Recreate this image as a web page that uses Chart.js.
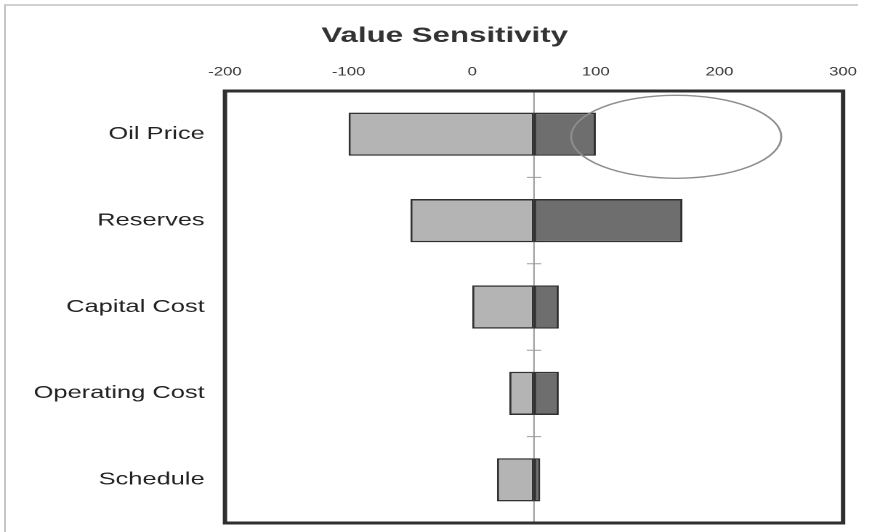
<!DOCTYPE html>
<html>
<head>
<meta charset="utf-8">
<title>Value Sensitivity</title>
<script src="https://cdn.jsdelivr.net/npm/chart.js@4.4.1/dist/chart.umd.min.js"></script>
<style>
	html, body { margin: 0; padding: 0; background: #fff; overflow: hidden; }
	#frame {
		position: absolute; left: 4px; top: 4px; width: 852px; height: 540px;
		border-left: 2px solid #c6c6c6; border-top: 2px solid #d0d0d0;
	}
	/* the chart is laid out 600 wide and stretched to the page, like the old sheet */
	#graph-canvas { position: absolute; left: 0; top: 0; transform: scaleX(1.4533); transform-origin: 0 0; }
</style>
</head>
<body>
<div id="frame"></div>
<canvas id="graph-canvas" width="600" height="532"></canvas>
<script>
// tornado data: value of each driver at its low and high case, around the base case
var drivers = ['Oil Price', 'Reserves', 'Capital Cost', 'Operating Cost', 'Schedule'];
var baseValue = 50;
var lowCase = [-100, -50, 0, 30, 20];
var highCase = [100, 170, 70, 70, 55];
var axisTicks = [-200, -100, 0, 100, 200, 300];

var font = 'Liberation Sans, Arial, sans-serif';

// thin line through the base case, with a small mark between drivers
var baseLine = {
	id: 'baseLine',
	beforeDatasetsDraw: function(chart) {
		var ctx = chart.ctx, area = chart.chartArea;
		var x = chart.scales.x.getPixelForValue(baseValue);
		var yScale = chart.scales.y;
		ctx.save();
		ctx.strokeStyle = '#9c9c9c';
		ctx.lineWidth = 1;
		ctx.beginPath();
		ctx.moveTo(x, area.top);
		ctx.lineTo(x, area.bottom);
		for (var i = 1; i < drivers.length; i++) {
			var y = (yScale.getPixelForValue(i - 1) + yScale.getPixelForValue(i)) / 2;
			ctx.moveTo(x - 5, y);
			ctx.lineTo(x + 5, y);
		}
		ctx.stroke();
		ctx.restore();
	}
};

// ring drawn round the oil price upside
var highlight = {
	id: 'highlight',
	afterDatasetsDraw: function(chart) {
		var ctx = chart.ctx;
		var xs = chart.scales.x, ys = chart.scales.y;
		var x1 = xs.getPixelForValue(80), x2 = xs.getPixelForValue(250);
		var band = ys.getPixelForValue(1) - ys.getPixelForValue(0);
		var cy = ys.getPixelForValue(0) + band * 0.03;
		ctx.save();
		ctx.strokeStyle = '#8e8e8e';
		ctx.lineWidth = 1.4;
		ctx.beginPath();
		ctx.ellipse((x1 + x2) / 2, cy, (x2 - x1) / 2, band * 0.48, 0, 0, 2 * Math.PI);
		ctx.stroke();
		ctx.restore();
	}
};

// heavy box round the plot area
var plotBox = {
	id: 'plotBox',
	afterDraw: function(chart) {
		var a = chart.chartArea, ctx = chart.ctx;
		ctx.save();
		ctx.strokeStyle = '#2f2f2f';
		ctx.lineWidth = 3;
		ctx.strokeRect(a.left, a.top, a.right - a.left, a.bottom - a.top);
		ctx.restore();
	}
};

// fixed axis sizes, without the extra room chart.js keeps for edge labels
function fixSize(size, horizontal) {
	return function(scale) {
		if (horizontal) scale.height = size; else scale.width = size;
		scale.paddingTop = scale.paddingBottom = 0;
		scale.paddingLeft = scale.paddingRight = 0;
	};
}

var downside = [], upside = [];
for (var i in drivers) {
	downside.push([lowCase[i], baseValue]);
	upside.push([baseValue, highCase[i]]);
}

var ctx = document.getElementById('graph-canvas');
var barGraph = new Chart(ctx, {
	type: 'bar',
	data: {
		labels: drivers,
		datasets: [
			{
				label: 'Low',
				data: downside,
				backgroundColor: '#b4b4b4',
				borderColor: '#303030',
				borderWidth: 1.5,
				borderSkipped: false
			},
			{
				label: 'High',
				data: upside,
				backgroundColor: '#6e6e6e',
				borderColor: '#303030',
				borderWidth: 1.5,
				borderSkipped: false
			}
		]
	},
	options: {
		indexAxis: 'y',
		responsive: false,
		animation: false,
		devicePixelRatio: 2,
		grouped: false,
		categoryPercentage: 1,
		barPercentage: 0.5,
		layout: { padding: { left: 12, right: 0, top: 0, bottom: 9 } },
		plugins: {
			legend: { display: false },
			tooltip: { enabled: false },
			title: {
				display: true,
				text: 'Value Sensitivity',
				color: '#333',
				font: { family: font, size: 21.5, weight: 'bold' },
				padding: { top: 23.1, bottom: 0 }
			}
		},
		scales: {
			x: {
				position: 'top',
				min: axisTicks[0],
				max: axisTicks[axisTicks.length - 1],
				afterBuildTicks: function(scale) {
					scale.ticks = axisTicks.map(function(v) { return { value: v }; });
				},
				afterFit: fixSize(42.1, true),
				ticks: { color: '#333', padding: 12, font: { family: font, size: 11.5 } },
				grid: { display: false, drawTicks: false },
				border: { display: false }
			},
			y: {
				afterFit: fixSize(142.8, false),
				ticks: { color: '#222', padding: 14, font: { family: font, size: 17.5 } },
				grid: { display: false, drawTicks: false },
				border: { display: false }
			},
			// empty strip on the right so the plot stops short of the edge
			yRight: {
				type: 'category',
				position: 'right',
				afterFit: fixSize(19.9, false),
				ticks: { display: false },
				grid: { display: false, drawTicks: false },
				border: { display: false }
			}
		}
	},
	plugins: [baseLine, highlight, plotBox]
});
</script>
</body>
</html>
